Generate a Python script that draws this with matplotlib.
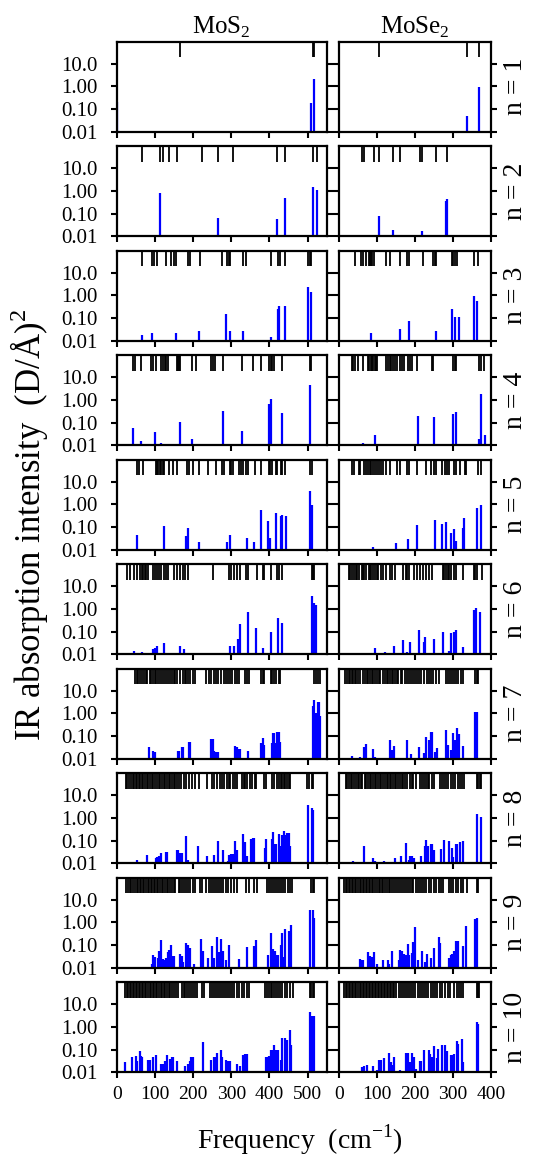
import matplotlib
matplotlib.use("Agg")
import matplotlib.pyplot as plt
from matplotlib.ticker import FixedLocator, FixedFormatter

plt.rcParams['font.family'] = ['Liberation Serif', 'DejaVu Serif']
plt.rcParams['mathtext.fontset'] = 'custom'
plt.rcParams['mathtext.rm'] = 'Liberation Serif'

# ---------------- data: mode frequencies (cm^-1) shown as top ticks ----------------
# and IR-active modes (frequency, intensity (D/A)^2) shown as blue bars

# MoS2
mos2_modes = [
    [166, 513, 518],
    [66, 114, 121, 136, 159, 223, 265, 305, 420, 440, 514, 524],
    [67, 93, 98, 106, 128, 143, 150, 156, 186, 193, 217, 276, 290, 295, 298, 330, 339,
     405, 423, 427, 440, 502, 505, 509],
    [43, 48, 63, 90, 96, 103, 115, 121, 126, 130, 135, 158, 160, 164, 166, 197, 207,
     248, 253, 257, 278, 327, 357, 377, 399, 403, 407, 412, 432, 506, 510],
    [52, 59, 68, 102, 105, 109, 113, 117, 121, 125, 137, 147, 158, 184, 189, 201, 215,
     239, 261, 276, 282, 296, 300, 305, 320, 325, 331, 339, 343, 362, 379, 398, 401,
     408, 417, 420, 429, 434, 441, 507, 511],
    [26, 36, 45, 52, 60, 67, 70, 74, 78, 82, 96, 101, 105, 110, 115, 123, 128, 135, 151,
     158, 166, 173, 180, 187, 252, 294, 300, 306, 315, 322, 338, 344, 368, 384, 387,
     405, 421, 425, 433, 511, 515, 518],
    [48, 53, 57, 61, 66, 71, 76, 80, 86, 90, 95, 99, 103, 109, 114, 119, 123, 128, 134,
     140, 145, 149, 153, 158, 166, 173, 178, 182, 188, 193, 200, 205, 235, 241, 248,
     254, 259, 265, 274, 280, 286, 292, 298, 303, 310, 315, 320, 335, 340, 346, 379,
     384, 387, 403, 408, 413, 418, 424, 427, 517, 522, 527, 532],
    [24, 28, 33, 37, 42, 46, 50, 54, 58, 61, 66, 70, 74, 79, 83, 88, 92, 96, 101, 105,
     110, 114, 118, 123, 127, 131, 136, 140, 145, 149, 153, 158, 163, 168, 175, 182,
     189, 197, 206, 215, 236, 249, 254, 263, 270, 277, 282, 289, 293, 298, 305, 311,
     315, 328, 333, 337, 341, 348, 355, 361, 366, 385, 390, 407, 412, 420, 425, 429,
     434, 438, 442, 447, 451, 455, 499, 504, 511, 515],
    [24, 29, 34, 38, 43, 47, 52, 56, 60, 64, 68, 72, 77, 81, 85, 89, 93, 97, 101, 105,
     109, 113, 118, 122, 126, 131, 135, 140, 144, 149, 153, 162, 167, 172, 177, 182,
     187, 193, 199, 206, 219, 224, 235, 241, 247, 252, 258, 263, 268, 273, 279, 285,
     292, 300, 308, 315, 339, 346, 359, 368, 394, 399, 404, 409, 414, 419, 424, 430,
     436, 442, 448, 454, 460, 508, 513, 518],
    [22, 26, 30, 34, 38, 42, 46, 50, 54, 58, 62, 66, 70, 74, 78, 82, 86, 90, 94, 98, 102,
     106, 110, 115, 119, 123, 127, 131, 136, 140, 145, 150, 155, 160, 170, 175, 180,
     185, 190, 195, 200, 205, 210, 223, 229, 245, 250, 255, 260, 266, 271, 276, 281,
     286, 291, 296, 302, 308, 314, 320, 327, 334, 340, 346, 388, 393, 398, 403, 408,
     413, 418, 423, 428, 434, 440, 446, 453, 461, 506, 510, 514, 518],
]

mos2_ir_freq = [
    [2, 510, 517],
    [114, 264, 420, 440, 513, 524],
    [67, 93, 155, 216, 287, 297, 330, 404, 423, 426, 440, 502, 508],
    [43, 63, 100, 115, 165, 196, 278, 327, 399, 405, 432, 506],
    [52, 123, 181, 186, 200, 216, 290, 297, 340, 359, 379, 397, 402, 418, 429, 432, 443,
     507, 512],
    [45, 67, 95, 101, 105, 125, 166, 177, 185, 296, 308, 317, 323, 343, 364, 383, 403,
     422, 432, 511, 517, 521],
    [66, 85, 95, 99, 160, 163, 171, 174, 189, 193, 202, 247, 251, 255, 260, 264, 311, 314,
     317, 321, 324, 344, 377, 383, 387, 406, 410, 412, 418, 420, 426, 428, 515, 518,
     522, 527, 530, 532],
    [52, 79, 102, 105, 111, 116, 129, 133, 138, 142, 158, 160, 166, 171, 181, 186, 191,
     214, 236, 254, 266, 278, 292, 295, 300, 305, 310, 314, 332, 336, 339, 342, 352, 356,
     359, 388, 390, 407, 410, 414, 418, 426, 429, 434, 439, 443, 447, 450, 454, 501,
     511, 515],
    [83, 92, 96, 101, 107, 111, 116, 120, 124, 129, 134, 137, 141, 144, 150, 166, 170,
     174, 181, 186, 193, 203, 221, 225, 238, 250, 256, 263, 268, 274, 279, 285, 294,
     305, 320, 341, 360, 365, 396, 405, 410, 414, 418, 423, 429, 433, 436, 442, 452,
     457, 507, 513, 518],
    [22, 39, 51, 54, 60, 63, 67, 82, 86, 94, 102, 116, 121, 126, 131, 139, 144, 147, 158,
     180, 186, 191, 195, 200, 225, 247, 254, 258, 263, 273, 277, 286, 291, 298, 315,
     324, 331, 335, 340, 390, 394, 400, 405, 410, 413, 418, 422, 429, 434, 440, 445,
     453, 457, 507, 511, 518],
]

mos2_ir_int = [
    [0.2, 0.18, 2.1],
    [0.83, 0.065, 0.058, 0.5, 1.5, 1.15],
    [0.017, 0.021, 0.021, 0.027, 0.15, 0.027, 0.027, 0.0145, 0.25, 0.33, 0.33, 2.45, 1.48],
    [0.055, 0.016, 0.039, 0.0125, 0.107, 0.019, 0.33, 0.043, 0.63, 1.09, 0.27, 4.7],
    [0.043, 0.115, 0.042, 0.091, 0.011, 0.021, 0.023, 0.045, 0.034, 0.023, 0.55, 0.186,
     0.032, 0.42, 0.32, 0.34, 0.31, 3.97, 0.95],
    [0.014, 0.013, 0.0167, 0.019, 0.022, 0.03, 0.022, 0.017, 0.011, 0.024, 0.024, 0.049,
     0.22, 0.77, 0.15, 0.018, 0.1, 0.38, 0.23, 3.9, 1.9, 1.48],
    [0.011, 0.034, 0.022, 0.02, 0.023, 0.023, 0.032, 0.032, 0.053, 0.053, 0.011, 0.072,
     0.072, 0.022, 0.02, 0.02, 0.036, 0.033, 0.018, 0.027, 0.027, 0.022, 0.049, 0.079,
     0.04, 0.049, 0.14, 0.14, 0.049, 0.15, 0.15, 0.057, 2.14, 3.96, 1.09, 3.3, 3.3, 0.77],
    [0.014, 0.024, 0.017, 0.018, 0.02, 0.029, 0.032, 0.032, 0.011, 0.011, 0.039, 0.04,
     0.027, 0.027, 0.167, 0.014, 0.011, 0.055, 0.02, 0.022, 0.1, 0.039, 0.013, 0.022,
     0.026, 0.026, 0.097, 0.039, 0.19, 0.088, 0.02, 0.02, 0.12, 0.128, 0.128, 0.049,
     0.119, 0.115, 0.24, 0.074, 0.074, 0.2, 0.06, 0.185, 0.27, 0.185, 0.22, 0.22, 0.055,
     3.55, 2.8, 2.14],
    [0.011, 0.015, 0.036, 0.03, 0.028, 0.055, 0.17, 0.025, 0.021, 0.028, 0.051, 0.062,
     0.098, 0.032, 0.032, 0.042, 0.033, 0.018, 0.12, 0.098, 0.077, 0.015, 0.19, 0.053,
     0.028, 0.094, 0.028, 0.235, 0.049, 0.19, 0.055, 0.023, 0.104, 0.011, 0.025, 0.085,
     0.088, 0.17, 0.038, 0.35, 0.069, 0.055, 0.038, 0.035, 0.098, 0.35, 0.03, 0.5, 0.4,
     0.74, 3.7, 3.4, 1.6],
    [0.028, 0.049, 0.052, 0.031, 0.091, 0.05, 0.048, 0.036, 0.036, 0.045, 0.056, 0.022,
     0.022, 0.03, 0.056, 0.038, 0.048, 0.048, 0.031, 0.018, 0.022, 0.032, 0.048, 0.048,
     0.22, 0.034, 0.048, 0.048, 0.072, 0.1, 0.048, 0.034, 0.03, 0.03, 0.024, 0.019, 0.06,
     0.067, 0.067, 0.045, 0.045, 0.05, 0.1, 0.1, 0.167, 0.1, 0.094, 0.036, 0.34, 0.34,
     0.26, 0.77, 0.156, 4.4, 3.0, 3.0],
]

# MoSe2
mose2_modes = [
    [106, 336, 369],
    [61, 67, 93, 106, 143, 160, 213, 218, 254, 283],
    [42, 57, 63, 71, 80, 82, 85, 88, 91, 124, 134, 160, 179, 184, 220, 247, 252, 256,
     297, 301, 304, 311, 354, 365],
    [34, 38, 42, 50, 63, 75, 79, 84, 88, 90, 94, 97, 101, 124, 129, 134, 137, 142, 147,
     152, 160, 165, 170, 182, 187, 193, 205, 245, 248, 300, 304, 308, 369, 373, 382],
    [33, 39, 52, 55, 67, 71, 75, 81, 84, 90, 96, 101, 106, 111, 117, 124, 135, 152, 160,
     178, 184, 206, 229, 242, 251, 255, 271, 279, 285, 289, 302, 308, 318, 331, 334,
     366, 374],
    [25, 29, 33, 39, 44, 48, 53, 60, 64, 67, 72, 78, 81, 85, 90, 95, 99, 103, 110, 117,
     124, 133, 139, 148, 168, 175, 180, 185, 197, 206, 213, 221, 228, 238, 246, 273,
     277, 282, 286, 290, 296, 303, 308, 325, 354, 359, 364, 375],
    [16, 20, 25, 29, 34, 37, 42, 46, 51, 55, 64, 68, 73, 77, 81, 86, 90, 95, 99, 104, 108,
     117, 121, 126, 130, 135, 139, 143, 147, 152, 156, 162, 167, 173, 178, 183, 189,
     194, 200, 206, 211, 217, 224, 231, 237, 242, 248, 255, 262, 282, 286, 292, 298,
     303, 308, 314, 320, 327, 358, 362, 367],
    [18, 22, 27, 31, 35, 40, 44, 49, 53, 57, 61, 68, 72, 76, 81, 85, 89, 94, 98, 103, 107,
     111, 116, 120, 125, 129, 134, 138, 143, 147, 151, 156, 160, 165, 169, 174, 178,
     186, 191, 196, 202, 213, 218, 223, 228, 233, 238, 244, 250, 265, 270, 276, 282,
     288, 294, 300, 306, 312, 318, 324, 329, 362, 366, 370, 373],
    [14, 18, 22, 26, 30, 34, 38, 42, 46, 50, 54, 58, 62, 66, 70, 74, 78, 82, 86, 90, 95,
     99, 104, 108, 113, 117, 122, 126, 131, 135, 140, 145, 150, 155, 160, 165, 170, 175,
     181, 186, 191, 196, 202, 207, 212, 218, 224, 230, 236, 243, 249, 256, 263, 268,
     273, 290, 295, 301, 307, 313, 320, 327, 336, 362, 367],
    [14, 18, 22, 26, 30, 34, 38, 42, 46, 50, 54, 58, 62, 66, 70, 74, 78, 82, 86, 90, 94,
     98, 102, 106, 110, 114, 118, 122, 126, 130, 134, 138, 142, 146, 150, 159, 164, 169,
     174, 180, 185, 190, 196, 201, 207, 212, 218, 224, 229, 235, 241, 247, 253, 259,
     266, 272, 279, 286, 293, 303, 310, 316, 322, 327, 362, 365, 368],
]

mose2_ir_freq = [
    [336, 369],
    [104, 142, 218, 282, 285],
    [85, 160, 185, 247, 255, 297, 305, 316, 354, 364],
    [64, 96, 207, 249, 300, 308, 369, 373, 383],
    [67, 90, 132, 150, 182, 205, 253, 270, 282, 294, 303, 308, 325, 330, 363, 373],
    [77, 94, 121, 127, 146, 168, 179, 187, 210, 223, 226, 250, 273, 289, 296, 303, 308,
     326, 354, 361, 372],
    [34, 54, 67, 70, 82, 89, 96, 133, 139, 146, 172, 180, 189, 210, 224, 230, 238, 243,
     246, 253, 257, 281, 287, 294, 300, 304, 307, 311, 315, 325, 357, 362],
    [36, 67, 90, 96, 104, 119, 147, 163, 177, 183, 188, 191, 198, 216, 226, 230, 234, 241,
     245, 250, 268, 275, 290, 297, 301, 308, 311, 318, 325, 363, 373],
    [39, 54, 58, 62, 77, 82, 86, 91, 99, 117, 128, 132, 140, 157, 161, 166, 170, 176, 181,
     185, 192, 196, 199, 209, 219, 225, 232, 243, 251, 263, 267, 289, 294, 298, 303,
     308, 314, 325, 334, 357, 364],
    [61, 65, 73, 83, 90, 99, 106, 111, 118, 124, 131, 136, 140, 144, 160, 176, 182, 188,
     193, 198, 202, 213, 217, 224, 236, 240, 244, 250, 257, 261, 272, 279, 285, 294,
     297, 303, 310, 314, 323, 327, 362, 367],
]

mose2_ir_int = [
    [0.049, 0.98],
    [0.077, 0.018, 0.017, 0.35, 0.45],
    [0.023, 0.032, 0.072, 0.011, 0.026, 0.24, 0.115, 0.11, 0.95, 0.57],
    [0.012, 0.028, 0.19, 0.18, 0.25, 0.3, 0.018, 1.87, 0.029],
    [0.011, 0.013, 0.011, 0.02, 0.029, 0.128, 0.2, 0.137, 0.167, 0.055, 0.079, 0.025,
     0.091, 0.25, 0.72, 0.95],
    [0.011, 0.018, 0.012, 0.011, 0.023, 0.042, 0.012, 0.034, 0.115, 0.033, 0.055, 0.048,
     0.1, 0.014, 0.085, 0.094, 0.115, 0.02, 0.89, 1.05, 0.75],
    [0.013, 0.012, 0.034, 0.045, 0.011, 0.026, 0.012, 0.067, 0.024, 0.036, 0.011, 0.067,
     0.016, 0.033, 0.017, 0.091, 0.067, 0.146, 0.146, 0.02, 0.03, 0.186, 0.039, 0.024,
     0.14, 0.07, 0.07, 0.23, 0.128, 0.036, 1.12, 1.12],
    [0.013, 0.06, 0.017, 0.012, 0.011, 0.012, 0.017, 0.02, 0.079, 0.014, 0.021, 0.021,
     0.017, 0.021, 0.06, 0.11, 0.055, 0.07, 0.07, 0.04, 0.043, 0.11, 0.1, 0.048, 0.018,
     0.07, 0.07, 0.088, 0.097, 1.5, 1.15],
    [0.011, 0.025, 0.022, 0.021, 0.048, 0.032, 0.03, 0.048, 0.014, 0.023, 0.023, 0.015,
     0.053, 0.023, 0.058, 0.053, 0.039, 0.038, 0.115, 0.035, 0.045, 0.137, 0.63, 0.022,
     0.053, 0.018, 0.039, 0.027, 0.077, 0.23, 0.12, 0.028, 0.035, 0.042, 0.053, 0.146,
     0.146, 0.094, 0.72, 1.38, 1.5],
    [0.017, 0.019, 0.021, 0.011, 0.019, 0.013, 0.036, 0.034, 0.043, 0.011, 0.072, 0.028,
     0.02, 0.048, 0.013, 0.074, 0.074, 0.028, 0.074, 0.048, 0.014, 0.03, 0.03, 0.094,
     0.094, 0.067, 0.048, 0.14, 0.043, 0.11, 0.156, 0.156, 0.088, 0.056, 0.06, 0.067,
     0.23, 0.17, 0.3, 0.027, 1.7, 1.32],
]

columns = [
    ("MoS$_2$", 550, [0, 100, 200, 300, 400, 500], mos2_modes, mos2_ir_freq, mos2_ir_int),
    ("MoSe$_2$", 400, [0, 100, 200, 300, 400], mose2_modes, mose2_ir_freq, mose2_ir_int),
]
n_layers = list(range(1, 11))
ytick_vals = [0.01, 0.1, 1, 10]
ytick_labels = ["0.01", "0.10", "1.00", "10.0"]

# ---------------- figure ----------------
W, H = 535, 1157
fig = plt.figure(figsize=(W / 100, H / 100), dpi=100)

col_left = [116.7, 339.0]
col_width = [210.0, 152.0]
top0, pitch, ph = 41.7, 104.5, 90.0

for c, (name, xmax, xticks, modes, ir_f, ir_i) in enumerate(columns):
    for r, n in enumerate(n_layers):
        top = top0 + r * pitch
        ax = fig.add_axes([col_left[c] / W, 1 - (top + ph) / H, col_width[c] / W, ph / H])
        ax.set_yscale('log')
        ax.set_xlim(0, xmax)
        ax.set_ylim(0.01, 95)

        # blue bars: IR intensity
        ax.vlines(ir_f[r], 0.01, ir_i[r], colors='#0000ff', lw=1.6)
        # black ticks at the top: all mode frequencies
        ax.vlines(modes[r], 0.83, 1.0, colors='black', lw=1.3,
                  transform=ax.get_xaxis_transform())

        ax.yaxis.set_major_locator(FixedLocator(ytick_vals))
        ax.yaxis.set_minor_locator(FixedLocator([]))
        ax.set_xticks(xticks)
        ax.tick_params(axis='both', which='major', direction='out', length=4, width=1.5)
        ax.tick_params(axis='y', left=True, right=True, pad=10, labelsize=15)
        ax.tick_params(axis='x', top=False, pad=6, labelsize=14)
        for s in ax.spines.values():
            s.set_linewidth(1.6)

        if c == 0:
            ax.yaxis.set_major_formatter(FixedFormatter(ytick_labels))
        else:
            ax.set_yticklabels([])
        if r != len(n_layers) - 1:
            ax.set_xticklabels([])
        if r == 0:
            ax.set_title(name, fontsize=18, pad=6)
        if c == 1:
            ax.text(1.16, 0.5, f"n = {n}", transform=ax.transAxes, rotation=90,
                    ha='center', va='center', fontsize=20)

fig.text(30 / W, 1 - 525 / H, "IR absorption intensity  (D/Å)$^2$", rotation=90,
         ha='center', va='center', fontsize=25)
fig.text(300 / W, 1 - 1140 / H, "Frequency  (cm$^{-1}$)", ha='center', va='center',
         fontsize=20)

fig.savefig("out.png", dpi=100)
